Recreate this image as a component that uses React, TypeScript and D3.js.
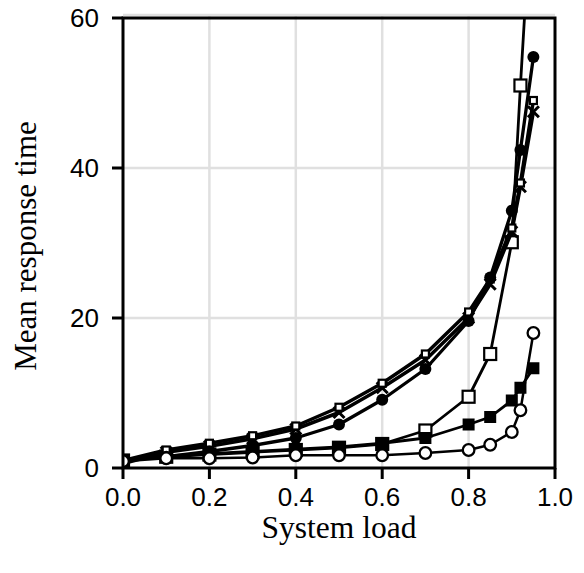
import React from "react";
import * as d3 from "d3";

const loads = [0, 0.1, 0.2, 0.3, 0.4, 0.5, 0.6, 0.7, 0.8, 0.85, 0.9, 0.92, 0.95];
const openSquareVals = [1.0, 1.5, 1.8, 2.1, 2.4, 2.7, 3.2, 5.0, 9.5, 15.2, 30.1, 51.0, 80.0];
const filledSquareVals = [1.0, 1.6, 1.9, 2.2, 2.5, 2.8, 3.3, 4.0, 5.8, 6.8, 9.0, 10.7, 13.3];
const crossVals = [0.6, 2.1, 2.9, 3.9, 5.2, 7.4, 10.7, 14.4, 20.0, 24.5, 31.5, 37.5, 47.5];
const smallSquareVals = [1.0, 2.4, 3.3, 4.3, 5.6, 8.1, 11.3, 15.2, 20.8, 25.2, 32.0, 38.0, 49.0];
const filledCircleVals = [1.07, 1.5, 2.2, 3.0, 4.0, 5.8, 9.1, 13.2, 19.6, 25.4, 34.3, 42.4, 54.8];
const openCircleVals = [0.9, 1.3, 1.3, 1.4, 1.7, 1.7, 1.7, 2.0, 2.4, 3.1, 4.8, 7.7, 18.0];

const xTicks = [0, 0.2, 0.4, 0.6, 0.8, 1.0];
const yTicks = [0, 20, 40, 60];

type Marker = "openSquare" | "filledSquare" | "cross" | "smallSquare" | "filledCircle" | "openCircle";
const series: { vals: number[]; marker: Marker; lw: number }[] = [
  { vals: openSquareVals, marker: "openSquare", lw: 2.8 },
  { vals: filledSquareVals, marker: "filledSquare", lw: 2.8 },
  { vals: crossVals, marker: "cross", lw: 3.5 },
  { vals: smallSquareVals, marker: "smallSquare", lw: 3.5 },
  { vals: filledCircleVals, marker: "filledCircle", lw: 3.3 },
  { vals: openCircleVals, marker: "openCircle", lw: 2.5 },
];

export default function App() {
  const W = 584, H = 573;
  const x = d3.scaleLinear().domain([0, 1]).range([123, 555]);
  const y = d3.scaleLinear().domain([0, 60]).range([468, 18]);
  const line = d3.line<[number, number]>().x(d => x(d[0])).y(d => y(d[1]));
  const gridTop = y(60.4);
  const tickLen = 11;
  const tickFont = "'Liberation Sans', Arial, sans-serif";
  const titleFont = "'Liberation Serif', 'Times New Roman', serif";

  const drawMarker = (m: Marker, cx: number, cy: number, k: string) => {
    switch (m) {
      case "openSquare":
        return <rect key={k} x={cx - 6} y={cy - 6} width={12} height={12} fill="white" stroke="black" strokeWidth={2.2} />;
      case "filledSquare":
        return <rect key={k} x={cx - 6} y={cy - 6} width={12} height={12} fill="black" />;
      case "smallSquare":
        return <rect key={k} x={cx - 3.5} y={cy - 3.5} width={7} height={7} fill="white" stroke="black" strokeWidth={2.2} />;
      case "cross":
        return (
          <path key={k} d={`M${cx - 5.5},${cy - 5.5}L${cx + 5.5},${cy + 5.5}M${cx - 5.5},${cy + 5.5}L${cx + 5.5},${cy - 5.5}`} stroke="black" strokeWidth={3} />
        );
      case "filledCircle":
        return <circle key={k} cx={cx} cy={cy} r={6} fill="black" />;
      case "openCircle":
        return <circle key={k} cx={cx} cy={cy} r={5.8} fill="white" stroke="black" strokeWidth={2.3} />;
    }
  };

  return (
    <svg width={W} height={H} style={{ position: "absolute", left: 0, top: 0, background: "white" }}>
      <defs>
        <clipPath id="plotClip">
          <rect x={x(0)} y={y(60)} width={x(1) - x(0)} height={y(0) - y(60)} />
        </clipPath>
      </defs>
      <rect width={W} height={H} fill="white" />
      {/* grid */}
      <g stroke="#e0e0e0" strokeWidth={2.5}>
        {xTicks.slice(1, -1).map(t => (
          <line key={"gx" + t} x1={x(t)} x2={x(t)} y1={gridTop} y2={y(0)} />
        ))}
        {yTicks.slice(1, -1).map(t => (
          <line key={"gy" + t} x1={x(0)} x2={x(1)} y1={y(t)} y2={y(t)} />
        ))}
        <line x1={x(0)} x2={x(1)} y1={gridTop} y2={gridTop} />
      </g>
      {/* series */}
      <g clipPath="url(#plotClip)">
        {series.map((s, si) => (
          <g key={si}>
            <path d={line(loads.map((l, i) => [l, s.vals[i]]) as [number, number][]) || ""} fill="none" stroke="black" strokeWidth={s.lw} strokeLinejoin="round" />
            {loads.map((l, i) => (s.vals[i] <= 60 ? drawMarker(s.marker, x(l), y(s.vals[i]), si + "-" + i) : null))}
          </g>
        ))}
      </g>
      {/* frame */}
      <g stroke="black" strokeWidth={3} fill="none">
        <rect x={x(0)} y={y(60)} width={x(1) - x(0)} height={y(0) - y(60)} />
        {xTicks.map(t => (
          <line key={"tx" + t} x1={x(t)} x2={x(t)} y1={y(0)} y2={y(0) + tickLen} />
        ))}
        {yTicks.map(t => (
          <line key={"ty" + t} x1={x(0) - tickLen} x2={x(0)} y1={y(t)} y2={y(t)} />
        ))}
      </g>
      {/* tick labels */}
      <g fontFamily={tickFont} fontSize={26} fill="black">
        {xTicks.map(t => (
          <text key={"lx" + t} x={x(t)} y={y(0) + 38} textAnchor="middle">
            {t.toFixed(1)}
          </text>
        ))}
        {yTicks.map(t => (
          <text key={"ly" + t} x={x(0) - 24} y={y(t) + 9} textAnchor="end">
            {t}
          </text>
        ))}
      </g>
      {/* titles */}
      <text x={(x(0) + x(1)) / 2} y={538} textAnchor="middle" fontFamily={titleFont} fontSize={31.5} fill="black">
        System load
      </text>
      <text transform={`translate(36,246) rotate(-90)`} textAnchor="middle" fontFamily={titleFont} fontSize={31} fill="black">
        Mean response time
      </text>
    </svg>
  );
}
